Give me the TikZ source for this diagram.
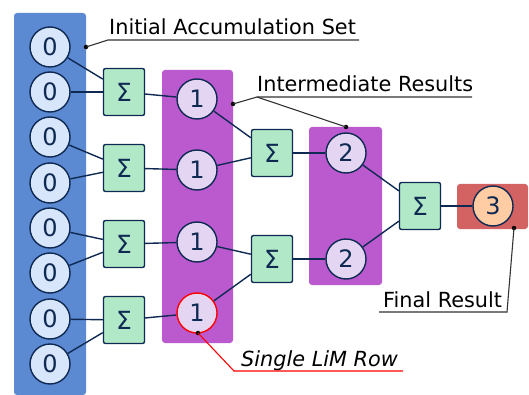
\documentclass[tikz,border=0pt]{standalone}
\usepackage{fontspec}
\setmainfont{DejaVu Sans}
\definecolor{navy}{HTML}{0F2A52}
\definecolor{bluebg}{HTML}{5B8AD3}
\definecolor{bluefill}{HTML}{D8E6FB}
\definecolor{purbg}{HTML}{BB5ACF}
\definecolor{purfill}{HTML}{E4D6F2}
\definecolor{greenfill}{HTML}{B1E8C8}
\definecolor{redbg}{HTML}{D36262}
\definecolor{orangefill}{HTML}{FFCCA3}
\definecolor{labline}{HTML}{333333}
\begin{document}
\begin{tikzpicture}[x=1pt,y=-1pt,
  valnode/.style={circle,draw=navy,line width=1.4pt,minimum size=40pt,inner sep=0pt,font=\fontsize{24}{24}\selectfont,text=navy},
  zeronode/.style={valnode,fill=bluefill},
  onenode/.style={valnode,fill=purfill},
  finnode/.style={valnode,fill=orangefill},
  sumbox/.style={rectangle,rounded corners=2pt,draw=navy,line width=1.4pt,fill=greenfill,minimum width=41pt,minimum height=47pt,inner sep=0pt,font=\fontsize{25}{25}\selectfont,text=navy},
  conn/.style={draw=navy,line width=1.4pt},
  bg/.style={rounded corners=3pt},
  lab/.style={font=\fontsize{20.8}{21}\selectfont,anchor=base west,inner sep=0pt},
  labln/.style={draw=labline,line width=1.1pt},
  dotc/.style={circle,fill=black,inner sep=0pt,minimum size=4.5pt}
]
\useasboundingbox (0,0) rectangle (529,395);
% backgrounds
\fill[bluebg,bg] (14,13) rectangle (86,395);
\fill[purbg,bg] (162,70) rectangle (233,343);
\fill[purbg,bg] (309,127) rectangle (382,285);
\fill[redbg,bg] (457,184) rectangle (528,229);
% nodes
\foreach \i/\y in {1/47,2/92,3/137,4/183,5/228,6/273,7/319,8/364}
  \node[zeronode] (z\i) at (50,\y) {0};
\foreach \i/\y in {1/92,2/168,3/244,4/320}
  \node[sumbox] (s\i) at (124,\y) {Σ};
\foreach \i/\y in {1/99,2/170,3/242}
  \node[onenode] (o\i) at (197,\y) {1};
\node[onenode,draw=red] (o4) at (197,313) {1};
\node[sumbox] (t1) at (272,153) {Σ};
\node[sumbox] (t2) at (272,259) {Σ};
\node[onenode] (w1) at (346,153) {2};
\node[onenode] (w2) at (346,259) {2};
\node[sumbox] (u) at (420,206) {Σ};
\node[finnode] (f) at (493,206) {3};
% connectors
\draw[conn] (z1) -- (s1); \draw[conn] (z2) -- (s1);
\draw[conn] (z3) -- (s2); \draw[conn] (z4) -- (s2);
\draw[conn] (z5) -- (s3); \draw[conn] (z6) -- (s3);
\draw[conn] (z7) -- (s4); \draw[conn] (z8) -- (s4);
\draw[conn] (s1) -- (o1); \draw[conn] (s2) -- (o2);
\draw[conn] (s3) -- (o3); \draw[conn] (s4) -- (o4);
\draw[conn] (o1) -- (t1); \draw[conn] (o2) -- (t1);
\draw[conn] (o3) -- (t2); \draw[conn] (o4) -- (t2);
\draw[conn] (t1) -- (w1); \draw[conn] (t2) -- (w2);
\draw[conn] (w1) -- (u); \draw[conn] (w2) -- (u);
\draw[conn] (u) -- (f);
% labels
\node[dotc] (d1) at (86,47) {};
\coordinate (k1) at (108,40); \coordinate (e1) at (359,40);
\node[lab] (l1) at (109,35) {Initial Accumulation Set};
\draw[labln] (d1.center) -- (k1) -- (e1);

\node[dotc] (d2) at (233,104) {};
\node[dotc] (d3) at (346,127) {};
\coordinate (k2) at (257,97); \coordinate (e2) at (472,97);
\node[lab] (l2) at (257,92) {Intermediate Results};
\draw[labln] (d2.center) -- (k2) -- (e2);
\draw[labln] (k2) -- (d3.center);

\node[dotc] (d4) at (514,228) {};
\coordinate (k4) at (507,312); \coordinate (e4) at (379,312);
\node[lab] (l4) at (383,307) {Final Result};
\draw[labln] (d4.center) -- (k4) -- (e4);

\node[dotc] (d5) at (198,333) {};
\coordinate (k5) at (234,371); \coordinate (e5) at (403,371);
\node[lab,font=\fontsize{20.8}{21}\selectfont\itshape] (l5) at (241,366) {Single LiM Row};
\draw[red,line width=1.1pt] (d5.center) -- (k5) -- (e5);
\end{tikzpicture}
\end{document}
